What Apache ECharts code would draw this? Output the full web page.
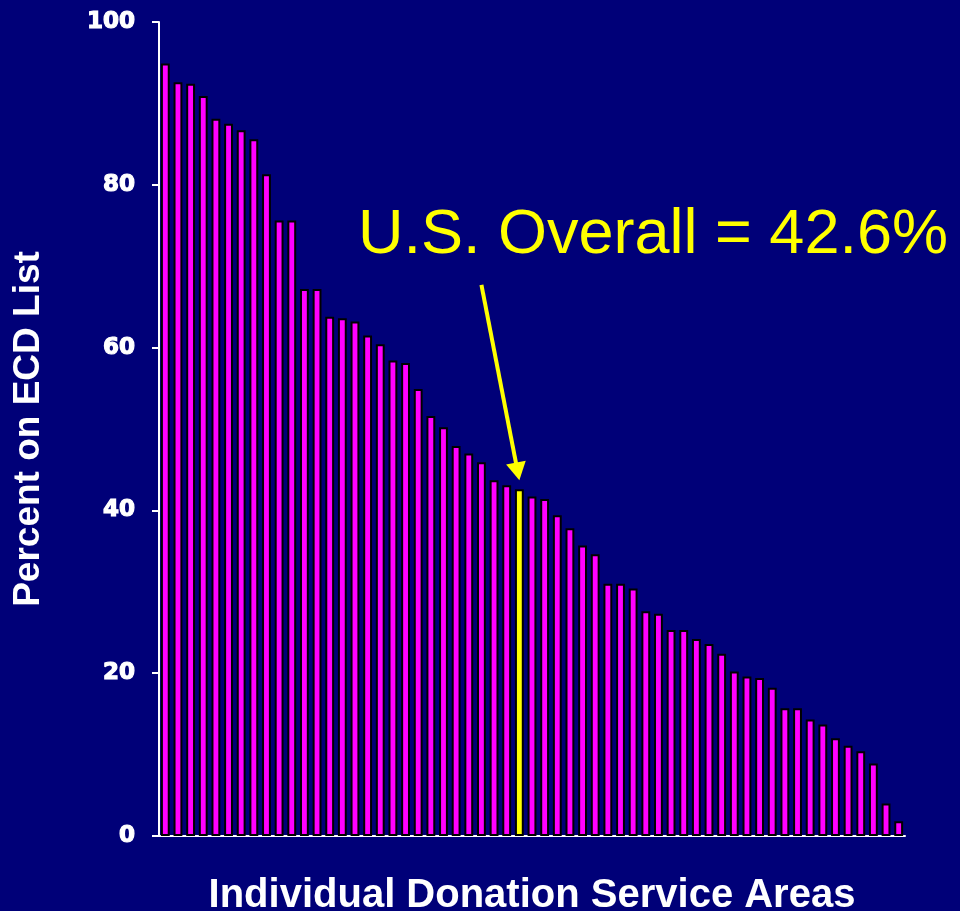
<!DOCTYPE html>
<html>
<head>
<meta charset="utf-8">
<script src="https://cdn.jsdelivr.net/npm/echarts@6/dist/echarts.min.js"></script>
<style>
html,body{margin:0;padding:0;background:#000078;overflow:hidden;}
#chart{width:960px;height:911px;}
</style>
</head>
<body>
<div id="chart"></div>
<script>
// Individual Donation Service Areas, sorted descending (percent on ECD list)
const percentValues = [94.9, 92.6, 92.4, 90.9, 88.1, 87.5, 86.7, 85.6, 81.3, 75.6,
  75.6, 67.2, 67.2, 63.8, 63.6, 63.2, 61.5, 60.4, 58.4, 58.1,
  54.9, 51.6, 50.2, 47.9, 47.0, 45.9, 43.7, 43.1, 42.6, 41.7,
  41.4, 39.4, 37.8, 35.7, 34.6, 31.0, 31.0, 30.4, 27.6, 27.3,
  25.3, 25.3, 24.2, 23.6, 22.4, 20.2, 19.6, 19.4, 18.2, 15.7,
  15.7, 14.3, 13.7, 12.0, 11.1, 10.4, 8.9, 4.0, 1.8];
const categories = percentValues.map((v, i) => 'DSA ' + (i + 1));
const overallIndex = 28;           // the U.S. overall bar (42.6%)
const overallLabel = 'U.S. Overall = 42.6%';
const yTicks = [0, 20, 40, 60, 80, 100];
const yAxisTitle = 'Percent on ECD List';
const xAxisTitle = 'Individual Donation Service Areas';

const chart = echarts.init(document.getElementById('chart'), null, {renderer: 'canvas'});

const barData = percentValues.map((v, i) => ({
  value: v,
  itemStyle: { color: i === overallIndex ? '#ffff00' : '#ff00ff' }
}));

const option = {
  backgroundColor: '#000078',
  animation: false,
  grid: { left: 159, right: 55, top: 22, bottom: 75, containLabel: false, outerBoundsMode: 'none' },
  xAxis: {
    type: 'category',
    data: categories,
    axisLine: { show: true, lineStyle: { color: '#ffffff', width: 2 } },
    axisTick: { show: false },
    axisLabel: { show: false },
    splitLine: { show: false },
    name: xAxisTitle,
    nameLocation: 'middle',
    nameGap: 40,
    nameTextStyle: { color: '#ffffff', fontFamily: 'Liberation Sans', fontWeight: 'bold', fontSize: 40 }
  },
  yAxis: {
    type: 'value',
    min: yTicks[0],
    max: yTicks[yTicks.length - 1],
    interval: 20,
    axisLine: { show: true, lineStyle: { color: '#ffffff', width: 2 } },
    axisTick: { show: true, inside: false, length: 7, lineStyle: { color: '#ffffff', width: 2 } },
    axisLabel: { color: '#ffffff', fontFamily: 'DejaVu Sans', fontWeight: 'bold', fontSize: 23, margin: 24,
                 textBorderColor: '#ffffff', textBorderWidth: 1.2 },
    splitLine: { show: false },
    name: yAxisTitle,
    nameLocation: 'middle',
    nameRotate: 90,
    nameGap: 112,
    nameTextStyle: { color: '#ffffff', fontFamily: 'Liberation Sans', fontWeight: 'bold', fontSize: 37 }
  },
  series: [{
    type: 'bar',
    data: barData,
    barWidth: '70%',
    itemStyle: { borderColor: '#000000', borderWidth: 2 }
  }]
};
chart.setOption(option);

// Annotation: text + arrow pointing at the overall bar
const tip = chart.convertToPixel({ gridIndex: 0 }, [overallIndex, percentValues[overallIndex] + 1.1]);
const start = chart.convertToPixel({ gridIndex: 0 }, [overallIndex - 3.3, 67.7]);
const dx = tip[0] - start[0], dy = tip[1] - start[1];
const len = Math.sqrt(dx * dx + dy * dy);
const ux = dx / len, uy = dy / len;
const headLen = 18, headHalf = 10;
const baseX = tip[0] - ux * headLen, baseY = tip[1] - uy * headLen;
const px = -uy, py = ux;

chart.setOption({
  graphic: [
    {
      type: 'line',
      shape: { x1: start[0], y1: start[1], x2: baseX + ux * 2, y2: baseY + uy * 2 },
      style: { stroke: '#ffff00', lineWidth: 4 },
      z: 100
    },
    {
      type: 'polygon',
      shape: { points: [[tip[0], tip[1]], [baseX + px * headHalf, baseY + py * headHalf], [baseX - px * headHalf, baseY - py * headHalf]] },
      style: { fill: '#ffff00' },
      z: 100
    },
    {
      type: 'text',
      x: 653, y: 236,
      style: {
        text: overallLabel,
        fill: '#ffff00',
        font: '63px "Liberation Sans"',
        align: 'center',
        verticalAlign: 'middle'
      },
      z: 100
    }
  ]
});
</script>
</body>
</html>
